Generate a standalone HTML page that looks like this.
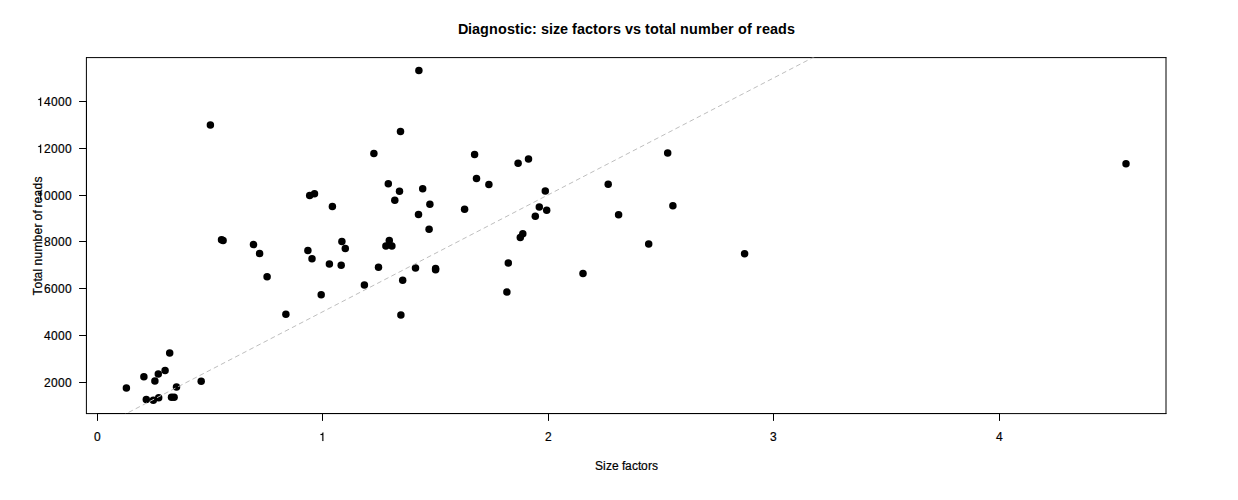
<!DOCTYPE html>
<html><head><meta charset="utf-8"><title>Diagnostic: size factors vs total number of reads</title>
<style>
html,body{margin:0;padding:0;background:#fff;}
body{width:1238px;height:500px;overflow:hidden;}
svg{display:block;}
text{font-family:"Liberation Sans",sans-serif;fill:#000;}
.t{font-size:12px;stroke:#000;stroke-width:0.2px;}
.m{font-size:14.4px;font-weight:bold;}
</style></head><body>
<svg width="1238" height="500" viewBox="0 0 1238 500">
<rect x="0" y="0" width="1238" height="500" fill="#fff"/>
<defs><clipPath id="c"><rect x="86.4" y="57.6" width="1079.6" height="356"/></clipPath></defs>
<g fill="#000">
<circle cx="126.4" cy="387.9" r="3.74"/>
<circle cx="143.9" cy="376.7" r="3.74"/>
<circle cx="154.9" cy="380.9" r="3.74"/>
<circle cx="158.3" cy="373.9" r="3.74"/>
<circle cx="165.1" cy="370.4" r="3.74"/>
<circle cx="169.7" cy="353" r="3.74"/>
<circle cx="176.5" cy="386.9" r="3.74"/>
<circle cx="201.2" cy="381.3" r="3.74"/>
<circle cx="146.3" cy="399.5" r="3.74"/>
<circle cx="153.3" cy="400.3" r="3.74"/>
<circle cx="158.7" cy="397.7" r="3.74"/>
<circle cx="171.5" cy="397.3" r="3.74"/>
<circle cx="174.1" cy="397.3" r="3.74"/>
<circle cx="221.5" cy="239.85" r="3.74"/>
<circle cx="223.1" cy="240.45" r="3.74"/>
<circle cx="253.5" cy="244.6" r="3.74"/>
<circle cx="259.6" cy="253.5" r="3.74"/>
<circle cx="267.1" cy="276.7" r="3.74"/>
<circle cx="285.9" cy="314.3" r="3.74"/>
<circle cx="307.9" cy="250.6" r="3.74"/>
<circle cx="312" cy="258.7" r="3.74"/>
<circle cx="321.2" cy="294.7" r="3.74"/>
<circle cx="329.4" cy="264" r="3.74"/>
<circle cx="341.2" cy="265.2" r="3.74"/>
<circle cx="341.9" cy="241.5" r="3.74"/>
<circle cx="345.3" cy="248.5" r="3.74"/>
<circle cx="309.7" cy="195.5" r="3.74"/>
<circle cx="314.5" cy="193.7" r="3.74"/>
<circle cx="332.4" cy="206.5" r="3.74"/>
<circle cx="210.4" cy="125.05" r="3.74"/>
<circle cx="418.9" cy="70.6" r="3.74"/>
<circle cx="400.5" cy="131.5" r="3.74"/>
<circle cx="373.9" cy="153.4" r="3.74"/>
<circle cx="388.3" cy="183.7" r="3.74"/>
<circle cx="399.5" cy="191.3" r="3.74"/>
<circle cx="394.8" cy="200.3" r="3.74"/>
<circle cx="422.7" cy="188.7" r="3.74"/>
<circle cx="429.9" cy="204.3" r="3.74"/>
<circle cx="418.5" cy="214.5" r="3.74"/>
<circle cx="429.1" cy="229.3" r="3.74"/>
<circle cx="464.6" cy="209.3" r="3.74"/>
<circle cx="474.6" cy="154.4" r="3.74"/>
<circle cx="476.5" cy="178.4" r="3.74"/>
<circle cx="488.9" cy="184.6" r="3.74"/>
<circle cx="518.1" cy="163.3" r="3.74"/>
<circle cx="528.5" cy="159.1" r="3.74"/>
<circle cx="545.3" cy="190.9" r="3.74"/>
<circle cx="539.3" cy="207.1" r="3.74"/>
<circle cx="546.7" cy="210.3" r="3.74"/>
<circle cx="535.3" cy="216.3" r="3.74"/>
<circle cx="522.8" cy="233.75" r="3.74"/>
<circle cx="520.3" cy="237.5" r="3.74"/>
<circle cx="389.3" cy="240.4" r="3.74"/>
<circle cx="385.9" cy="246" r="3.74"/>
<circle cx="391.9" cy="246" r="3.74"/>
<circle cx="378.5" cy="267.3" r="3.74"/>
<circle cx="364.4" cy="285.1" r="3.74"/>
<circle cx="402.7" cy="280.3" r="3.74"/>
<circle cx="415.5" cy="267.9" r="3.74"/>
<circle cx="435.6" cy="268.5" r="3.74"/>
<circle cx="435.6" cy="269.7" r="3.74"/>
<circle cx="400.9" cy="315.1" r="3.74"/>
<circle cx="508.3" cy="263.1" r="3.74"/>
<circle cx="506.9" cy="292.1" r="3.74"/>
<circle cx="583" cy="273.5" r="3.74"/>
<circle cx="667.7" cy="153" r="3.74"/>
<circle cx="608.2" cy="184.3" r="3.74"/>
<circle cx="672.9" cy="205.7" r="3.74"/>
<circle cx="618.6" cy="214.7" r="3.74"/>
<circle cx="648.7" cy="244" r="3.74"/>
<circle cx="744.6" cy="253.7" r="3.74"/>
<circle cx="1126" cy="163.8" r="3.74"/>
</g>
<g stroke="#000" stroke-width="1" fill="none" stroke-linecap="round" stroke-linejoin="round">
<path d="M97.5 413.5H999.5"/>
<path d="M97.5 413.5V420.5"/>
<path d="M322.5 413.5V420.5"/>
<path d="M548.5 413.5V420.5"/>
<path d="M773.5 413.5V420.5"/>
<path d="M999.5 413.5V420.5"/>
<path d="M86.5 382.5V101.5"/>
<path d="M86.5 382.5H79.5"/>
<path d="M86.5 335.5H79.5"/>
<path d="M86.5 288.5H79.5"/>
<path d="M86.5 241.5H79.5"/>
<path d="M86.5 195.5H79.5"/>
<path d="M86.5 148.5H79.5"/>
<path d="M86.5 101.5H79.5"/>
<path d="M86.4 57.6V413.6"/>
<path d="M1166 57.6V413.6"/>
<path d="M86.4 57.6H1166"/>
<path d="M86.4 413.6H1166"/>
</g>
<text class="t" x="94" y="441">0</text>
<path transform="translate(319.2,441) scale(0.012,-0.012)" d="M259 0V505H102V568C236 585 256 602 286 709H347V0Z" fill="#000" stroke="#000" stroke-width="12"/>
<text class="t" x="545" y="441">2</text>
<text class="t" x="770" y="441">3</text>
<text class="t" x="996" y="441">4</text>
<text class="t" x="44 51 58 65" y="387">2000</text>
<text class="t" x="44 51 58 65" y="340">4000</text>
<text class="t" x="44 51 58 65" y="293">6000</text>
<text class="t" x="44 51 58 65" y="246">8000</text>
<path transform="translate(37,200) scale(0.012,-0.012)" d="M259 0V505H102V568C236 585 256 602 286 709H347V0Z" fill="#000" stroke="#000" stroke-width="12"/>
<text class="t" x="44 51 58 65" y="200">0000</text>
<path transform="translate(37,153) scale(0.012,-0.012)" d="M259 0V505H102V568C236 585 256 602 286 709H347V0Z" fill="#000" stroke="#000" stroke-width="12"/>
<text class="t" x="44 51 58 65" y="153">2000</text>
<path transform="translate(37,106) scale(0.012,-0.012)" d="M259 0V505H102V568C236 585 256 602 286 709H347V0Z" fill="#000" stroke="#000" stroke-width="12"/>
<text class="t" x="44 51 58 65" y="106">4000</text>
<text class="m" x="458.1 468.1 472.1 480.1 489.1 498.1 507.1 515.1 520.1 524.1 532.1 537.1 541.1 549.1 553.1 560.1 568.1 572.1 577.1 585.1 593.1 598.1 607.1 613.1 621.1 625.1 633.1 641.1 645.1 650.1 659.1 664.1 672.1 676.1 680.1 689.1 698.1 711.1 720.1 728.1 734.1 738.1 747.1 752.1 756.1 762.1 770.1 778.1 787.1" y="33.7">Diagnostic: size factors vs total number of reads</text>
<text class="t" x="595 603 606 612 619 622 625 632 638 641 648 652" y="469.8">Size factors</text>
<text class="t" transform="translate(42.4,295.5) rotate(-90)" x="0 7 14 17 24 27 30 37 44 54 61 68 72 75 82 85 88 92 99 106 113" y="0">Total number of reads</text>
<g clip-path="url(#c)"><path d="M86.4 434.276L1166 -125.496" stroke="#bebebe" stroke-width="1" stroke-dasharray="4 4" stroke-dashoffset="0.1" stroke-linecap="round" fill="none"/></g>
</svg></body></html>
